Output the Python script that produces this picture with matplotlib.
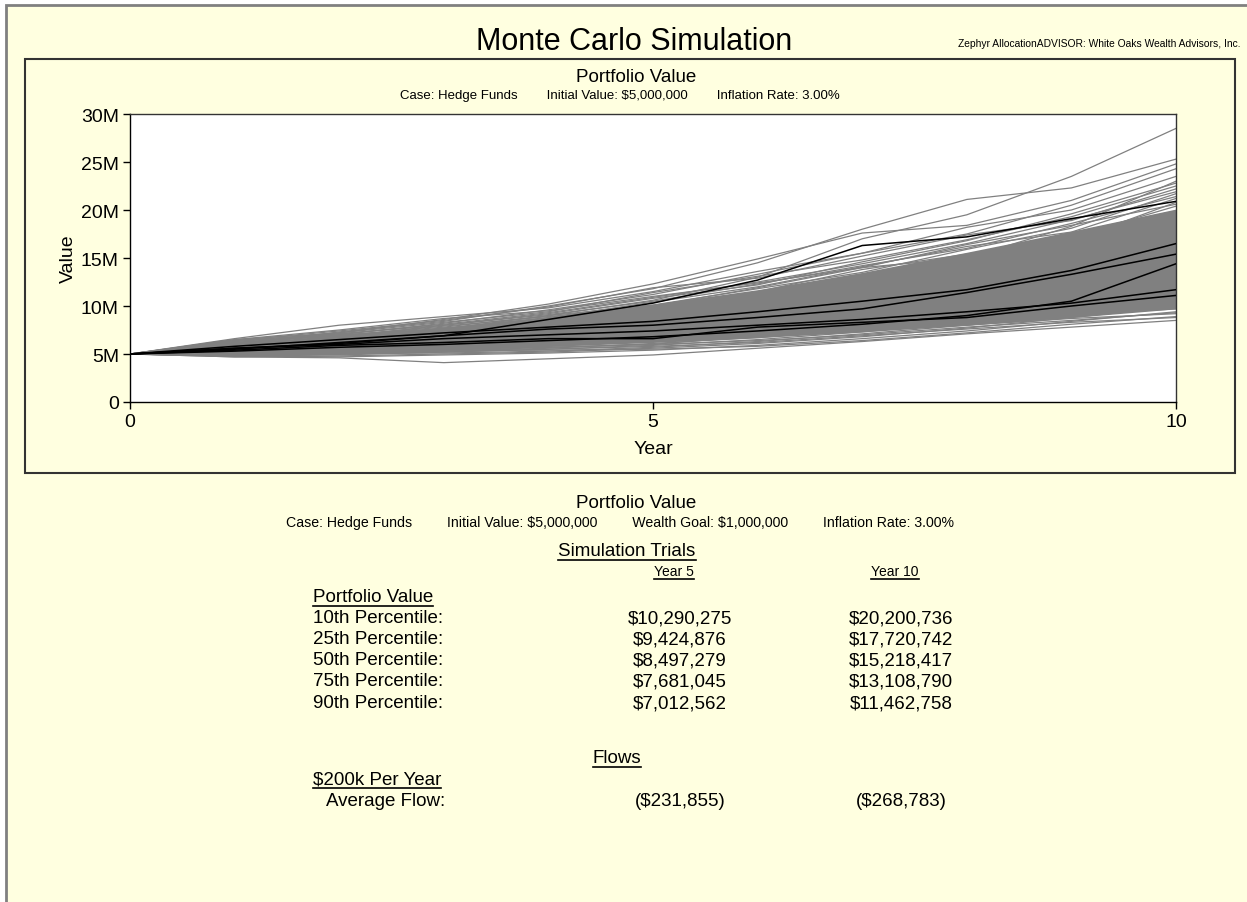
import numpy as np
import matplotlib
matplotlib.use("Agg")
from matplotlib import pyplot as plt
from matplotlib.patches import Rectangle
from matplotlib.lines import Line2D

plt.rcParams['font.family'] = ['Liberation Sans', 'DejaVu Sans']

# ---------------- data (values in $ millions) ----------------
years = [0, 1, 2, 3, 4, 5, 6, 7, 8, 9, 10]

# dense middle of the trial cloud
core_lo = [5, 4.95, 5.15, 5.4, 5.8, 6.2, 6.7, 7.3, 8.0, 8.8, 9.7]
core_hi = [5, 6.2, 6.9, 7.8, 8.9, 10.2, 11.7, 13.5, 15.6, 17.8, 20.1]

# individual simulation trials (gray)
trials = [
    [5, 6.2, 6.9, 7.8, 9.0, 10.6, 13.0, 17.0, 19.5, 23.5, 28.5],
    [5, 6.0, 7.3, 8.4, 10.0, 11.8, 14.5, 18.0, 21.1, 22.3, 25.3],
    [5, 6.6, 8.0, 8.9, 9.8, 11.5, 13.6, 15.5, 17.5, 20.5, 24.3],
    [5, 4.7, 4.6, 4.1, 4.5, 4.9, 5.6, 6.3, 7.1, 7.8, 8.5],
    [5, 6.3, 7.2, 8.6, 10.2, 12.3, 14.9, 17.6, 18.4, 21.0, 24.8],
    [5, 6.1, 7.0, 8.2, 9.6, 11.2, 13.3, 15.5, 18.2, 20.0, 23.5],
    [5, 5.9, 6.8, 8.0, 9.2, 10.8, 12.2, 14.6, 16.8, 19.6, 22.8],
    [5, 6.4, 7.4, 8.5, 9.9, 11.9, 12.9, 15.2, 17.4, 18.9, 22.2],
    [5, 5.7, 6.5, 7.6, 9.0, 10.1, 11.8, 13.5, 15.9, 18.1, 21.7],
    [5, 6.0, 6.7, 7.4, 8.3, 9.7, 11.5, 13.8, 15.4, 17.2, 20.4],
    [5, 5.5, 6.3, 7.2, 8.4, 9.5, 10.9, 12.5, 14.7, 17.6, 19.9],
    [5, 5.8, 6.6, 7.0, 8.0, 9.2, 10.6, 12.8, 14.1, 16.3, 19.2],
    [5, 5.4, 6.0, 6.9, 7.9, 8.8, 10.3, 11.9, 13.9, 15.8, 18.6],
    [5, 6.2, 6.9, 7.5, 8.6, 9.0, 10.1, 11.6, 13.2, 15.5, 18.1],
    [5, 5.6, 6.4, 7.3, 7.7, 8.7, 9.8, 11.3, 12.9, 14.9, 17.6],
    [5, 5.3, 5.9, 6.6, 7.5, 8.4, 9.9, 11.0, 12.6, 14.5, 17.0],
    [5, 5.9, 6.2, 6.8, 7.6, 8.5, 9.5, 10.8, 12.3, 14.0, 16.8],
    [5, 5.2, 5.8, 6.5, 7.2, 8.1, 9.2, 10.6, 11.9, 13.8, 16.2],
    [5, 5.7, 6.3, 6.9, 7.4, 7.9, 9.0, 10.4, 11.8, 13.5, 15.9],
    [5, 5.5, 6.1, 6.5, 7.1, 7.8, 8.8, 10.1, 11.5, 13.1, 15.3],
    [5, 5.1, 5.6, 6.2, 6.9, 7.7, 8.6, 9.8, 11.2, 12.8, 14.9],
    [5, 5.6, 5.9, 6.3, 6.8, 7.5, 8.3, 9.5, 10.8, 12.4, 14.6],
    [5, 5.3, 5.7, 6.1, 6.7, 7.3, 8.1, 9.2, 10.5, 12.0, 14.0],
    [5, 5.0, 5.4, 5.9, 6.5, 7.1, 7.9, 8.9, 10.1, 11.6, 13.6],
    [5, 5.4, 5.5, 5.8, 6.3, 6.9, 7.7, 8.7, 9.8, 11.3, 13.2],
    [5, 4.9, 5.2, 5.6, 6.1, 6.7, 7.5, 8.4, 9.5, 10.9, 12.7],
    [5, 5.2, 5.3, 5.7, 6.0, 6.5, 7.2, 8.1, 9.2, 10.6, 12.3],
    [5, 4.8, 5.0, 5.4, 5.8, 6.3, 7.0, 7.8, 8.9, 10.2, 11.9],
    [5, 5.1, 5.2, 5.3, 5.6, 6.1, 6.7, 7.6, 8.6, 9.8, 11.4],
    [5, 4.8, 4.9, 5.2, 5.5, 5.9, 6.5, 7.3, 8.3, 9.5, 10.9],
    [5, 4.9, 5.1, 5.1, 5.3, 5.7, 6.3, 7.1, 8.0, 9.1, 10.4],
    [5, 4.7, 4.8, 5.0, 5.2, 5.6, 6.1, 6.8, 7.7, 8.8, 9.9],
    [5, 4.8, 4.7, 4.9, 5.1, 5.4, 5.9, 6.6, 7.4, 8.4, 9.4],
    [5, 5.0, 5.1, 5.4, 5.4, 5.5, 5.8, 6.4, 7.2, 8.1, 8.9],
    [5, 6.1, 6.2, 6.6, 7.7, 9.6, 10.4, 10.9, 12.8, 13.6, 16.0],
    [5, 5.2, 6.4, 7.7, 8.1, 8.3, 9.7, 12.2, 13.0, 15.9, 15.6],
    [5, 5.8, 5.6, 6.0, 7.3, 8.9, 9.4, 9.9, 11.0, 13.0, 12.5],
    [5, 5.4, 6.5, 6.4, 6.9, 7.9, 9.6, 11.4, 11.1, 12.3, 14.3],
    [5, 5.0, 5.7, 6.7, 7.8, 7.6, 8.2, 9.0, 10.9, 11.4, 13.9],
    [5, 6.0, 6.8, 7.1, 7.3, 8.0, 8.4, 9.3, 10.0, 11.9, 13.0],
    [5, 5.5, 5.4, 6.0, 6.6, 7.0, 8.5, 9.0, 9.4, 10.8, 11.0],
    [5, 5.7, 6.9, 7.9, 8.9, 9.9, 11.0, 12.0, 13.6, 14.2, 17.3],
    [5, 5.3, 6.0, 6.1, 7.0, 8.2, 8.9, 10.3, 12.4, 13.0, 16.6],
    [5, 6.3, 7.0, 7.6, 8.2, 9.4, 11.2, 12.9, 13.4, 16.8, 20.8],
    [5, 5.9, 6.6, 7.6, 8.8, 10.4, 12.0, 14.1, 16.2, 17.7, 21.2],
    [5, 6.5, 7.5, 8.7, 9.5, 11.0, 12.4, 14.0, 15.0, 18.3, 23.0],
    [5, 4.9, 5.4, 5.9, 6.3, 6.9, 7.8, 8.5, 9.9, 10.3, 12.0],
    [5, 5.1, 5.0, 5.5, 5.9, 6.4, 7.2, 8.2, 8.6, 9.4, 10.1],
    [5, 5.3, 5.7, 6.3, 6.2, 6.5, 7.0, 7.5, 8.2, 9.1, 9.7],
    [5, 4.9, 5.3, 5.5, 5.7, 6.0, 6.9, 7.7, 8.0, 8.7, 9.2],
    [5, 6.4, 7.1, 8.1, 9.3, 10.9, 12.5, 14.4, 16.5, 19.0, 21.9],
    [5, 6.1, 7.1, 8.0, 9.1, 10.5, 12.3, 14.2, 16.0, 18.6, 21.4],
    [5, 5.8, 6.8, 7.7, 8.7, 10.0, 11.9, 14.0, 16.4, 18.4, 20.6],
    [5, 6.5, 7.2, 8.3, 9.4, 11.4, 13.1, 14.8, 16.9, 19.3, 22.5],
    [5, 4.8, 5.0, 5.3, 5.7, 6.0, 6.4, 7.0, 7.8, 8.5, 9.3],
    [5, 4.9, 5.0, 5.2, 5.5, 5.8, 6.2, 6.9, 7.6, 8.3, 8.8],
]

# highlighted trials (black)
highlight = [
    [5, 5.6, 6.1, 6.9, 8.6, 10.3, 12.7, 16.3, 17.2, 19.1, 20.9],
    [5, 5.8, 6.5, 7.2, 7.8, 8.4, 9.4, 10.5, 11.7, 13.7, 16.5],
    [5, 5.5, 6.2, 6.9, 7.6, 8.0, 8.8, 9.7, 11.4, 13.3, 15.4],
    [5, 5.3, 5.7, 6.0, 6.4, 6.8, 7.4, 8.1, 9.0, 10.5, 14.4],
    [5, 5.6, 6.0, 6.6, 7.0, 7.4, 8.0, 8.6, 9.4, 10.3, 11.7],
    [5, 5.4, 5.9, 6.2, 6.6, 6.6, 7.8, 8.3, 8.8, 10.0, 11.1],
]

y_ticks = [0, 5, 10, 15, 20, 25, 30]
x_ticks = [0, 5, 10]

pct_labels = ["10th Percentile:", "25th Percentile:", "50th Percentile:",
              "75th Percentile:", "90th Percentile:"]
pct_year5 = ["$10,290,275", "$9,424,876", "$8,497,279", "$7,681,045", "$7,012,562"]
pct_year10 = ["$20,200,736", "$17,720,742", "$15,218,417", "$13,108,790", "$11,462,758"]
flow_year5 = "($231,855)"
flow_year10 = "($268,783)"

W, H = 1247, 903
BG = '#ffffe0'
GRAY = '#808080'

fig = plt.figure(figsize=(W / 100, H / 100), dpi=100)
fig.patch.set_facecolor('white')

# overlay axes in pixel coordinates for frame and text
ov = fig.add_axes([0, 0, 1, 1])
ov.set_xlim(0, W)
ov.set_ylim(H, 0)
ov.axis('off')
ov.add_patch(Rectangle((6, 6), W + 10, H + 10, facecolor=BG, edgecolor=GRAY, lw=2))
ov.add_patch(Rectangle((25, 60), 1210, 414, facecolor=BG, edgecolor='#333333', lw=1.5))


def txt(x, y, s, size, ha='center'):
    return ov.text(x, y, s, ha=ha, va='center', fontsize=size, parse_math=False)


gap = "        "
txt(634, 42, "Monte Carlo Simulation", 22)
txt(1240, 44, "Zephyr AllocationADVISOR: White Oaks Wealth Advisors, Inc.", 7.4, ha='right')
txt(636, 77, "Portfolio Value", 13.5)
txt(620, 96, gap.join(["Case: Hedge Funds", "Initial Value: $5,000,000",
                       "Inflation Rate: 3.00%"]), 9.5)

# ---------------- main chart ----------------
ax = fig.add_axes([130 / W, 1 - 403 / H, (1176 - 130) / W, (403 - 115) / H])
ax.set_facecolor('white')
ax.fill_between(years, core_lo, core_hi, color=GRAY, lw=0, zorder=1)
for tr in trials:
    ax.plot(years, tr, color=GRAY, lw=0.9, zorder=2)
for tr in highlight:
    ax.plot(years, tr, color='black', lw=1.1, zorder=3)

ax.set_xlim(0, 10)
ax.set_ylim(0, 30)
ax.set_xticks(x_ticks)
ax.set_yticks(y_ticks)
ax.set_yticklabels([("%dM" % v) if v else "0" for v in y_ticks])
ax.tick_params(axis='both', direction='out', length=5, width=1, labelsize=14, pad=3)
ax.tick_params(axis='x', pad=3)
for s in ['top', 'right']:
    ax.spines[s].set_color('#333333')
for s in ax.spines.values():
    s.set_linewidth(1)
ax.set_ylabel("Value", fontsize=14, labelpad=3)
ax.set_xlabel("Year", fontsize=14, labelpad=7)

# ---------------- summary table ----------------
txt(636, 504, "Portfolio Value", 13.5)
txt(620, 523, "         ".join(["Case: Hedge Funds", "Initial Value: $5,000,000",
                               "Wealth Goal: $1,000,000", "Inflation Rate: 3.00%"]), 10.2)

underlined = [
    txt(627, 552, "Simulation Trials", 13.5),
    txt(674, 572, "Year 5", 10),
    txt(895, 572, "Year 10", 10),
    txt(313, 598, "Portfolio Value", 13.5, ha='left'),
]

row_y = [619, 640, 661, 682, 704]
for lab, v5, v10, yy in zip(pct_labels, pct_year5, pct_year10, row_y):
    txt(313, yy, lab, 13.5, ha='left')
    txt(680, yy, v5, 13.5)
    txt(901, yy, v10, 13.5)

underlined.append(txt(617, 759, "Flows", 13.5))
underlined.append(txt(313, 780, "$200k Per Year", 13.5, ha='left'))
txt(326, 802, "Average Flow:", 13.5, ha='left')
txt(680, 802, flow_year5, 13.5)
txt(901, 802, flow_year10, 13.5)

fig.canvas.draw()
r = fig.canvas.get_renderer()
for t in underlined:
    bb = t.get_window_extent(r)
    fig.add_artist(Line2D([bb.x0, bb.x1], [bb.y0 - 0.5, bb.y0 - 0.5], transform=None,
                          color='black', lw=1.2))

fig.savefig("out.png", dpi=100, facecolor=fig.get_facecolor())
